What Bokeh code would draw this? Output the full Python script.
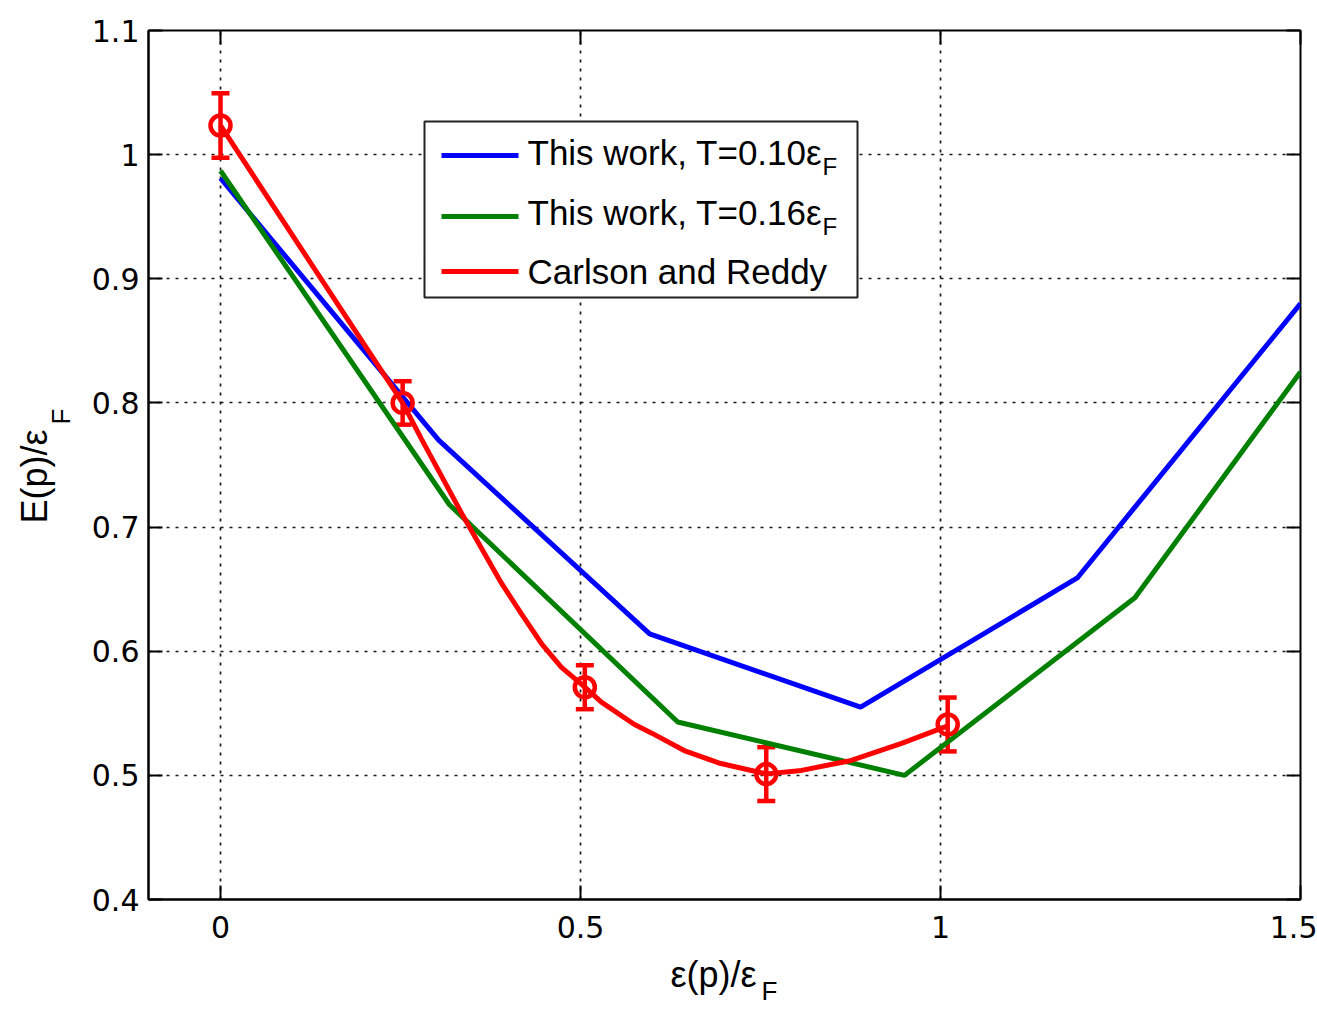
import math
from bokeh.plotting import figure
from bokeh.layouts import row, column
from bokeh.models import ColumnDataSource, Whisker, TeeHead, LinearAxis, FixedTicker, Range1d
from bokeh.core.properties import value
from bokeh.embed import file_html
from bokeh.resources import INLINE

# ---------------- data ----------------
x_ticks = [0, 0.5, 1, 1.5]
x_tick_labels = ["0", "0.5", "1", "1.5"]
y_ticks = [0.4, 0.5, 0.6, 0.7, 0.8, 0.9, 1.0, 1.1]
y_tick_labels = ["0.4", "0.5", "0.6", "0.7", "0.8", "0.9", "1", "1.1"]

# This work, T=0.10 eps_F
blue_x = [0.0, 0.303, 0.596, 0.889, 1.19, 1.5]
blue_y = [0.981, 0.770, 0.614, 0.555, 0.659, 0.880]

# This work, T=0.16 eps_F
green_x = [0.0, 0.318, 0.635, 0.95, 1.27, 1.5]
green_y = [0.987, 0.718, 0.543, 0.500, 0.643, 0.825]

# Carlson and Reddy: smooth curve
cr_curve_x = [0.0, 0.126, 0.189, 0.253, 0.279, 0.307, 0.335, 0.3625, 0.390, 0.418, 0.446, 0.4736,
              0.506, 0.529, 0.575, 0.599, 0.644, 0.692, 0.758, 0.807, 0.876, 0.946, 1.011]
cr_curve_y = [1.0235, 0.912, 0.8565, 0.800, 0.771, 0.741, 0.711, 0.683, 0.655, 0.630, 0.606, 0.587,
              0.571, 0.559, 0.541, 0.534, 0.520, 0.510, 0.5012, 0.504, 0.512, 0.5257, 0.540]

# Carlson and Reddy: data points with error bars
cr_x = [0.0, 0.253, 0.506, 0.758, 1.01]
cr_y = [1.0235, 0.800, 0.571, 0.501, 0.541]
cr_err = [0.026, 0.0175, 0.0177, 0.0217, 0.0217]

legend_labels = ["This work, T=0.10\u03b5", "This work, T=0.16\u03b5", "Carlson and Reddy"]
legend_colors = ["#0000ff", "#008000", "#ff0000"]
x_label = "\u03b5(p)/\u03b5"
y_label = "E(p)/\u03b5"
sub_label = "F"

# ---------------- layout (page pixels) ----------------
W, H = 1317, 1009
YLAB_W = 80            # width of the strip holding the y-axis label
MAIN_H = 952           # height of the main figure
FL, FR, FT, FB = 148, 1300, 30, 899
XMIN, XMAX, YMIN, YMAX = -0.1, 1.5, 0.4, 1.1
BASE_FIX = 11          # empirical baseline correction for text glyphs


def X(px):
    return XMIN + (px - FL) * (XMAX - XMIN) / (FR - FL)


def Y(py):
    return YMAX - (py - FT) * (YMAX - YMIN) / (FB - FT)


FONT = "Liberation Sans"
TICKFONT = "DejaVu Sans"

p = figure(width=W - YLAB_W, height=MAIN_H, x_range=Range1d(XMIN, XMAX), y_range=Range1d(YMIN, YMAX),
           output_backend="svg", toolbar_location=None,
           min_border_left=FL - YLAB_W, min_border_right=W - FR, min_border_top=FT,
           min_border_bottom=MAIN_H - FB,
           background_fill_color="white", border_fill_color="white")

p.outline_line_color = "black"
p.outline_line_width = 2
p.outline_line_alpha = 1

# axes
p.xaxis.ticker = FixedTicker(ticks=x_ticks)
p.xaxis.major_label_overrides = dict(zip(x_ticks, x_tick_labels))
p.yaxis.ticker = FixedTicker(ticks=y_ticks)
p.yaxis.major_label_overrides = dict(zip(y_ticks, y_tick_labels))
for ax in (p.xaxis[0], p.yaxis[0]):
    ax.major_tick_in = 14
    ax.major_tick_out = 0
    ax.major_tick_line_width = 2
    ax.minor_tick_line_color = None
    ax.axis_line_width = 2
    ax.major_label_text_font = TICKFONT
    ax.major_label_text_font_size = "30px"
    ax.major_label_text_color = "black"
p.xaxis.major_label_standoff = 16
p.yaxis.major_label_standoff = 9

# mirrored tick marks on right and top
ra = LinearAxis(ticker=FixedTicker(ticks=y_ticks), major_label_overrides={t: "" for t in y_ticks},
                major_tick_in=14, major_tick_out=0, major_tick_line_width=2,
                minor_tick_line_color=None, axis_line_color=None, major_label_standoff=0)
p.add_layout(ra, "right")
ta = LinearAxis(ticker=FixedTicker(ticks=x_ticks), major_label_overrides={t: "" for t in x_ticks},
                major_tick_in=14, major_tick_out=0, major_tick_line_width=2,
                minor_tick_line_color=None, axis_line_color=None, major_label_standoff=0)
p.add_layout(ta, "above")

# grid
p.grid.grid_line_color = "black"
p.grid.grid_line_dash = "3 6"
p.grid.grid_line_width = 1.7
p.grid.grid_line_alpha = 0.9

# series
LW = 5
p.line(blue_x, blue_y, line_color=legend_colors[0], line_width=LW)
p.line(green_x, green_y, line_color=legend_colors[1], line_width=LW)
p.line(cr_curve_x, cr_curve_y, line_color=legend_colors[2], line_width=LW)

src = ColumnDataSource(data=dict(
    x=cr_x, y=cr_y,
    upper=[y + e for y, e in zip(cr_y, cr_err)],
    lower=[y - e for y, e in zip(cr_y, cr_err)],
))
p.add_layout(Whisker(source=src, base="x", upper="upper", lower="lower",
                     line_color="red", line_width=4.5,
                     upper_head=TeeHead(size=18, line_color="red", line_width=4.5),
                     lower_head=TeeHead(size=18, line_color="red", line_width=4.5)))
p.scatter("x", "y", source=src, marker="circle", size=20, fill_color=None,
          line_color="red", line_width=4.5)

# legend (drawn manually to allow subscripts)
p.quad(left=[X(424)], right=[X(857)], top=[Y(121)], bottom=[Y(297)],
       fill_color="white", line_color="#222222", line_width=2)
leg_line_y = [Y(155), Y(216), Y(271)]
p.segment(x0=[X(441)] * 3, x1=[X(518)] * 3, y0=leg_line_y, y1=leg_line_y,
          line_color=legend_colors, line_width=LW)
p.text(x=[X(527)] * 3, y=[Y(163 - BASE_FIX), Y(223 - BASE_FIX), Y(282 - BASE_FIX)], text=legend_labels,
       text_font=value(FONT), text_font_size=value("35px"), text_color="black",
       text_align="left", text_baseline="alphabetic")
p.text(x=[X(822)] * 2, y=[Y(177 - BASE_FIX), Y(237 - BASE_FIX)], text=[sub_label, sub_label],
       text_font=value(FONT), text_font_size=value("24px"), text_color="black",
       text_align="left", text_baseline="alphabetic")

# ---------------- x-axis label strip (page-pixel coordinates) ----------------
# In a column the frames of the figures are aligned, so this frame spans the
# same horizontal pixels as the main plot frame.
fx = figure(width=W - YLAB_W, height=H - MAIN_H, x_range=Range1d(FL, FR), y_range=Range1d(H, MAIN_H),
            x_axis_type=None, y_axis_type=None, output_backend="svg", toolbar_location=None,
            min_border=0, outline_line_color=None, background_fill_color="white",
            border_fill_color="white")
fx.text(x=[713], y=[985 - BASE_FIX], text=[x_label], text_font=value(FONT),
        text_font_size=value("36px"), text_color="black", text_align="center",
        text_baseline="alphabetic")
fx.text(x=[761], y=[1001 - BASE_FIX], text=[sub_label], text_font=value(FONT),
        text_font_size=value("26px"), text_color="black", text_align="left",
        text_baseline="alphabetic")

# ---------------- y-axis label strip ----------------
fy = figure(width=YLAB_W, height=H, x_range=Range1d(0, YLAB_W), y_range=Range1d(H, 0),
            x_axis_type=None, y_axis_type=None, output_backend="svg", toolbar_location=None,
            min_border=0, outline_line_color=None, background_fill_color="white",
            border_fill_color="white")
fy.text(x=[45 - BASE_FIX], y=[476], text=[y_label], angle=math.pi / 2, text_font=value(FONT),
        text_font_size=value("36px"), text_color="black", text_align="center",
        text_baseline="alphabetic")
fy.text(x=[71 - BASE_FIX], y=[424], text=[sub_label], angle=math.pi / 2, text_font=value(FONT),
        text_font_size=value("26px"), text_color="black", text_align="left",
        text_baseline="alphabetic")

layout = row(fy, column(p, fx, spacing=0), spacing=0)

open("out.html", "w").write(file_html(layout, INLINE))
